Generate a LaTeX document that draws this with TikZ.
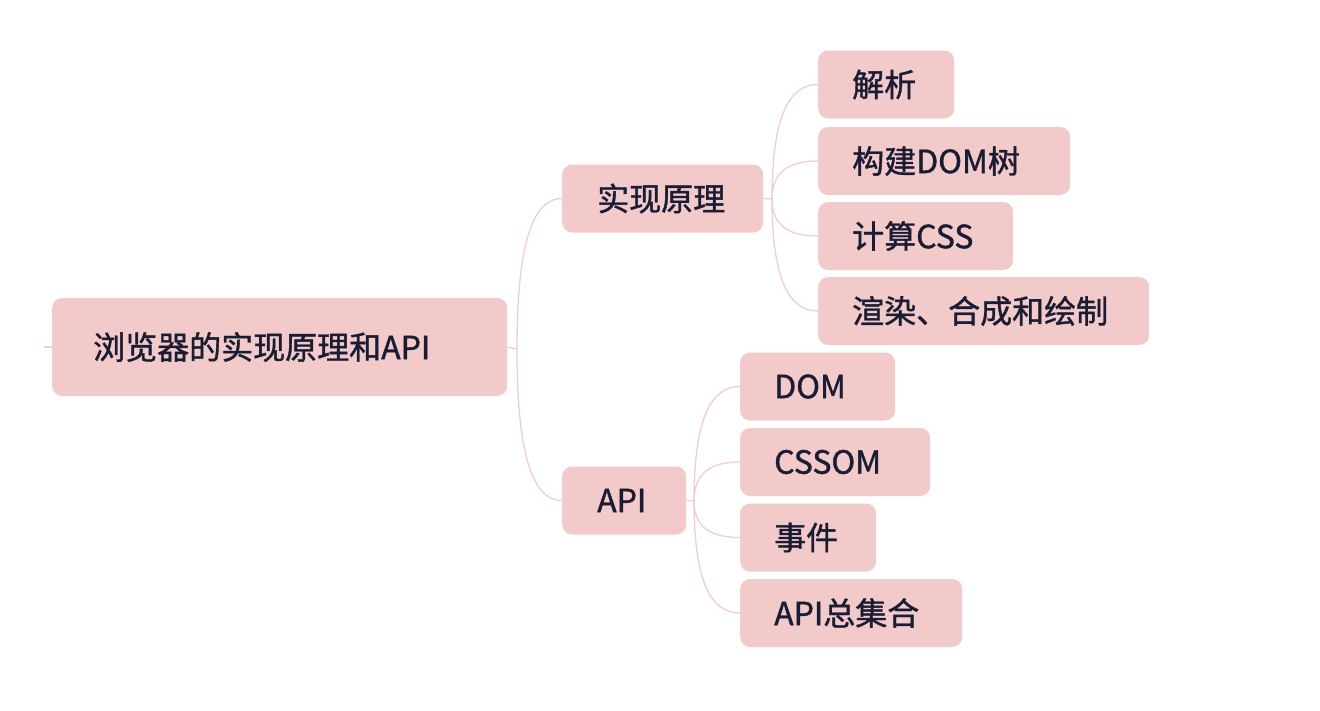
\documentclass[tikz,border=0pt]{standalone}
\usepackage{fontspec}
\newfontfamily\cjk{Noto Sans CJK SC}[FakeBold=1.2]
\usetikzlibrary{calc}
\definecolor{boxpink}{HTML}{F2CACA}
\definecolor{linepink}{HTML}{EFCDD0}
\definecolor{txt}{HTML}{1A1C33}
\begin{document}
\begin{tikzpicture}[x=1pt,y=-1pt,
  box/.style={fill=boxpink, rounded corners=10pt, anchor=west, align=left,
    inner ysep=0pt, minimum height=68pt, text=txt,
    font=\cjk\fontsize{32}{38}\selectfont},
  conn/.style={draw=linepink, line width=1.3pt}]
\fill[white] (0,0) rectangle (1320,710);
\useasboundingbox (0,0) rectangle (1320,710);

\node[box, inner xsep=41pt, minimum width=455pt, minimum height=98pt, text width=373pt] (root) at (52,347) {\mbox{浏览器的实现原理和API}};

\node[box, inner xsep=35pt, minimum width=201pt, text width=131pt] (impl) at (562,198.5) {\mbox{实现原理}};
\node[box, inner xsep=35pt, minimum width=124pt, text width=54pt] (api) at (562,500.5) {\mbox{API}};

\node[box, inner xsep=34pt, minimum width=136pt, text width=68pt] (jx) at (818,84.5) {\mbox{解析}};
\node[box, inner xsep=34pt, minimum width=252pt, text width=184pt] (gj) at (818,161) {\mbox{构建DOM树}};
\node[box, inner xsep=34pt, minimum width=195pt, text width=127pt] (js) at (818,236) {\mbox{计算CSS}};
\node[box, inner xsep=34pt, minimum width=331pt, text width=263pt] (xr) at (818,311) {\mbox{渲染、合成和绘制}};

\node[box, inner xsep=34pt, minimum width=155pt, text width=87pt] (dom) at (740,386.5) {\mbox{DOM}};
\node[box, inner xsep=34pt, minimum width=190pt, text width=122pt] (cssom) at (740,462) {\mbox{CSSOM}};
\node[box, inner xsep=34pt, minimum width=136pt, text width=68pt] (sj) at (740,537.5) {\mbox{事件}};
\node[box, inner xsep=34pt, minimum width=222pt, text width=154pt] (zjh) at (740,613) {\mbox{API总集合}};

\coordinate (lstub) at (44,347);
\coordinate (rb) at (517,349);
\coordinate (ib) at (772,199);
\coordinate (ab) at (694,501);

\draw[conn] (lstub) -- (root.west);
\draw[conn] (root.east) -- (rb);
\foreach \n in {impl,api}
  \draw[conn] (rb) .. controls ($(rb)!0.75!(rb |- \n.west)$) and ($(rb |- \n.west)!0.4!(\n.west)$) .. (\n.west);

\draw[conn] (impl.east) -- (ib);
\foreach \n in {jx,gj,js,xr}
  \draw[conn] (ib) .. controls ($(ib)!0.75!(ib |- \n.west)$) and ($(ib |- \n.west)!0.4!(\n.west)$) .. (\n.west);

\draw[conn] (api.east) -- (ab);
\foreach \n in {dom,cssom,sj,zjh}
  \draw[conn] (ab) .. controls ($(ab)!0.75!(ab |- \n.west)$) and ($(ab |- \n.west)!0.4!(\n.west)$) .. (\n.west);
\end{tikzpicture}
\end{document}
